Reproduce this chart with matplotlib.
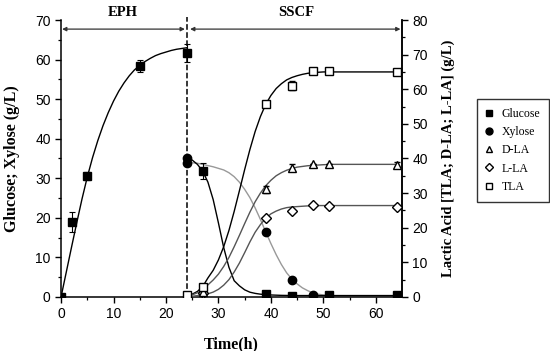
import numpy as np
import matplotlib
matplotlib.use("Agg")
import matplotlib.pyplot as plt

glc_t = [0, 2, 5, 15, 24, 27, 39, 44, 51, 64]
glc_y = [0, 19.0, 30.5, 58.3, 61.7, 31.8, 0.8, 0.3, 0.4, 0.5]
glc_err = [0, 2.5, 1.0, 1.5, 2.2, 2.0, 0, 0, 0, 0]

xyl_t = [24, 24, 39, 44, 48]
xyl_y = [35.2, 33.8, 16.5, 4.4, 0.4]

dla_t = [27, 39, 44, 48, 51, 64]
dla_y = [1.5, 31.1, 37.3, 38.3, 38.3, 38.2]
dla_err = [0, 1.0, 1.0, 0, 0, 0.8]

lla_t = [27, 39, 44, 48, 51, 64]
lla_y = [1.0, 22.7, 24.8, 26.6, 26.4, 26.1]

tla_t = [24, 27, 39, 44, 48, 51, 64]
tla_y = [0.5, 2.8, 55.6, 61.0, 65.3, 65.3, 65.0]
tla_err = [0, 0.8, 0, 1.3, 0, 0, 0.9]

# ---- fitted curves as drawn in the figure ----
eph_t = list(range(0, 25))
eph_y = [0, 6.3, 12.6, 18.8, 24.8, 30.3, 35.2, 39.5, 43.3, 46.6, 49.5, 52.0,
         54.1, 55.9, 57.4, 58.5, 59.5, 60.3, 61.0, 61.5, 61.9, 62.3, 62.6,
         62.8, 63.0]

ss_t = list(range(24, 51)) + [52, 56, 60, 64]
glc_fit = [35.0, 34.6, 33.5, 31.8, 29.0, 24.6, 18.7, 12.5, 7.5, 4.1, 2.8,
           1.8, 1.2, 0.9, 0.7, 0.6, 0.5, 0.45, 0.4, 0.38, 0.35, 0.35, 0.35,
           0.35, 0.35, 0.35, 0.35, 0.35, 0.35, 0.35, 0.35]
xyl_fit = [34.0, 33.9, 33.8, 33.5, 33.2, 32.9, 32.5, 32.1, 31.4, 30.4, 29.0,
           27.2, 25.1, 22.5, 19.6, 16.5, 13.5, 10.7, 8.2, 6.1, 4.5, 3.3, 2.3,
           1.6, 1.0, 0.7, 0.5, 0.3, 0.3, 0.3, 0.3]
tla_fit = [0.3, 0.8, 1.6, 3.0, 5.5, 7.7, 10.7, 14.5, 19.2, 24.7, 30.7, 36.8,
           42.6, 47.8, 52.1, 55.6, 58.2, 60.2, 61.6, 62.7, 63.4, 63.9, 64.3,
           64.6, 64.8, 64.9, 65.0, 65.0, 65.0, 65.0, 65.0]
dla_fit = [0.2, 0.6, 1.2, 2.0, 3.5, 4.9, 6.6, 8.8, 11.4, 14.5, 17.8, 21.2,
           24.5, 27.5, 30.0, 32.1, 33.7, 35.0, 35.9, 36.6, 37.1, 37.5, 37.7,
           37.9, 38.0, 38.1, 38.2, 38.3, 38.3, 38.3, 38.3]
lla_fit = [0.1, 0.2, 0.4, 0.7, 0.9, 1.4, 2.2, 3.4, 5.0, 7.2, 9.8, 12.8, 15.9,
           18.7, 20.9, 22.7, 24.0, 24.8, 25.4, 25.8, 26.0, 26.1, 26.2, 26.3,
           26.35, 26.4, 26.4, 26.4, 26.4, 26.4, 26.4]

serif = "Liberation Serif"
plt.rcParams["font.family"] = "Liberation Sans"

fig = plt.figure(figsize=(5.5, 3.51), dpi=100)
ax = fig.add_axes([0.111, 0.154, 0.62, 0.789])
ax2 = ax.twinx()

# left axis: sugars
ax.plot(eph_t, eph_y, color="black", lw=1)
ax.plot(ss_t, xyl_fit, color="#999999", lw=1)
ax.plot(ss_t, glc_fit, color="black", lw=1)
ax.errorbar(glc_t, glc_y, yerr=glc_err, fmt="s", color="black", ms=5.5,
            capsize=2.5, elinewidth=0.8, capthick=0.8, zorder=5)
ax.plot(xyl_t, xyl_y, "o", color="black", ms=6, zorder=5)

# right axis: lactic acid
ax2.plot(ss_t, tla_fit, color="black", lw=1)
ax2.plot(ss_t, dla_fit, color="#555555", lw=1)
ax2.plot(ss_t, lla_fit, color="#555555", lw=1)
ax2.errorbar(dla_t, dla_y, yerr=dla_err, fmt="^", mfc="white", mec="black",
             ecolor="black", ms=5.5, mew=1, capsize=2, elinewidth=0.8, zorder=5)
ax2.plot(lla_t, lla_y, "D", mfc="white", mec="black", ms=5, mew=1, zorder=5)
ax2.errorbar(tla_t, tla_y, yerr=tla_err, fmt="s", mfc="white", mec="black",
             ecolor="black", ms=5.5, mew=1, capsize=2, elinewidth=0.8, zorder=5)

# legend handles
h = [plt.Line2D([], [], ls="", marker="s", color="black", ms=4.5),
     plt.Line2D([], [], ls="", marker="o", color="black", ms=5),
     plt.Line2D([], [], ls="", marker="^", mfc="white", mec="black", ms=5),
     plt.Line2D([], [], ls="", marker="D", mfc="white", mec="black", ms=4.5),
     plt.Line2D([], [], ls="", marker="s", mfc="white", mec="black", ms=4.5)]
labels = ["Glucose", "Xylose", "D-LA", "L-LA", "TLA"]
leg = ax2.legend(h, labels, loc="upper left", bbox_to_anchor=(477 / 550, 1 - 99 / 351),
                 bbox_transform=fig.transFigure, prop={"family": serif, "size": 8.5},
                 fancybox=False, edgecolor="black", handlelength=0.6,
                 handletextpad=0.75, labelspacing=0.53, borderpad=0.75,
                 borderaxespad=0)
leg.get_frame().set_linewidth(1.0)

# phase markers
ax.axvline(24, ymin=0, ymax=1.01, color="black", ls="--", lw=1.1, clip_on=False)
arrow = dict(arrowstyle="<|-|>", color="#333333", lw=0.9, mutation_scale=6,
             shrinkA=0, shrinkB=0)
ax.annotate("", xy=(0.2, 67.7), xytext=(23.6, 67.7), arrowprops=arrow)
ax.annotate("", xy=(24.6, 67.7), xytext=(64.7, 67.7), arrowprops=arrow)
ax.text(11.8, 71.8, "EPH", family=serif, weight="bold", fontsize=10.5,
        ha="center", va="center", clip_on=False)
ax.text(44.9, 71.8, "SSCF", family=serif, weight="bold", fontsize=10.5,
        ha="center", va="center", clip_on=False)

ax.set_xlim(0, 65)
ax.set_ylim(0, 70)
ax2.set_ylim(0, 80)
ax.set_xticks(np.arange(0, 61, 10))
ax.set_xticks(np.arange(5, 65, 10), minor=True)
ax.set_yticks(np.arange(0, 71, 10))
ax.set_yticks(np.arange(5, 70, 10), minor=True)
ax2.set_yticks(np.arange(0, 81, 10))
ax2.set_yticks(np.arange(5, 80, 10), minor=True)

for a in (ax, ax2):
    a.spines["top"].set_visible(False)
    for s in a.spines.values():
        s.set_linewidth(1.1)
    a.tick_params(which="major", direction="out", length=4, width=1, labelsize=10)
    a.tick_params(which="minor", direction="out", length=2.5, width=0.9)
ax2.spines["left"].set_visible(False)
ax2.spines["bottom"].set_visible(False)

ax.set_xlabel("Time(h)", family=serif, weight="bold", fontsize=11.5)
ax.set_ylabel("Glucose; Xylose (g/L)", family=serif, weight="bold", fontsize=11.5)
ax2.set_ylabel("Lactic Acid [TLA; D-LA; L-LA] (g/L)", family=serif,
               weight="bold", fontsize=10.5)
ax.xaxis.set_label_coords(0.5, -0.143)
ax.yaxis.set_label_coords(-0.12, 0.5)
ax2.yaxis.set_label_coords(1.116, 0.5)

fig.savefig("out.png", dpi=100)
